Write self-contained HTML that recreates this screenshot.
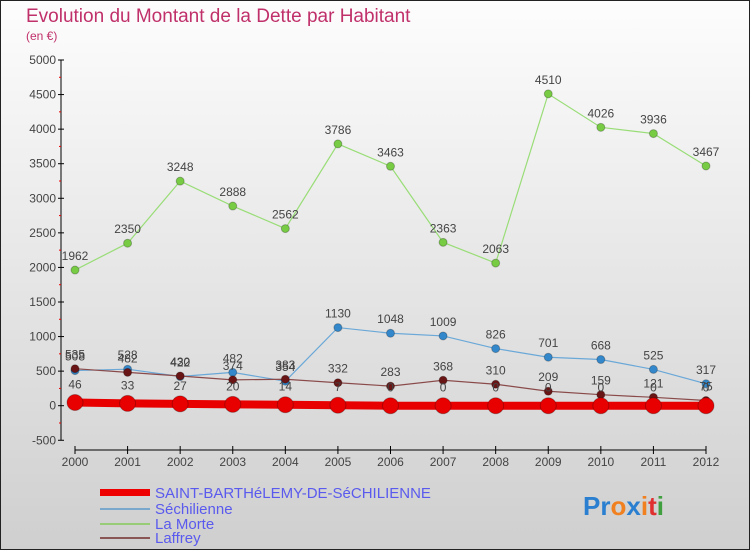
<!DOCTYPE html>
<html><head><meta charset="utf-8"><style>
body{margin:0;width:750px;height:550px;overflow:hidden;font-family:"Liberation Sans",sans-serif}
svg{display:block}
</style></head><body>
<svg id="chart" width="750" height="550">
<defs><linearGradient id="bg" x1="0" y1="0" x2="0" y2="1"><stop offset="0" stop-color="#fdfdfd"/><stop offset="1" stop-color="#cfcfcf"/></linearGradient></defs>
<rect x="0.5" y="0.5" width="749" height="549" fill="url(#bg)" stroke="#222"/>
<text x="26" y="22" font-size="19" fill="#c0306a">Evolution du Montant de la Dette par Habitant</text>
<text x="26" y="40" font-size="12" fill="#c0306a">(en €)</text>
<g id="axes"></g><g id="series"></g>
<g font-size="15" fill="#5a5aee">
<rect x="100" y="489" width="50" height="7" fill="#e00"/>
<text x="155" y="498">SAINT-BARTHéLEMY-DE-SéCHILIENNE</text>
<rect x="100" y="508" width="50" height="2" fill="#7aa8cc"/>
<text x="155" y="514">Séchilienne</text>
<rect x="100" y="523" width="50" height="2" fill="#99cc77"/>
<text x="155" y="529">La Morte</text>
<rect x="100" y="537" width="50" height="2" fill="#8a5555"/>
<text x="155" y="543">Laffrey</text>
</g>
<text x="583" y="515" font-size="26" font-weight="bold"><tspan fill="#2a7fd0">Pr</tspan><tspan fill="#f08020">o</tspan><tspan fill="#2a7fd0">x</tspan><tspan fill="#f08020">i</tspan><tspan fill="#e03030">t</tspan><tspan fill="#40a040">i</tspan></text>
</svg>
<script>
const years=[2000,2001,2002,2003,2004,2005,2006,2007,2008,2009,2010,2011,2012];
const saintBarth=[46,33,27,20,14,7,0,0,0,0,0,0,0];
const sechilienne=[508,528,422,482,354,1130,1048,1009,826,701,668,525,317];
const laMorte=[1962,2350,3248,2888,2562,3786,3463,2363,2063,4510,4026,3936,3467];
const laffrey=[535,482,430,374,383,332,283,368,310,209,159,121,75];
const yTicks=[-500,0,500,1000,1500,2000,2500,3000,3500,4000,4500,5000];
const NS="http://www.w3.org/2000/svg";
const X=i=>75+i*(706-75)/(years.length-1);
const Y=v=>405.7-v*(345.7/5000);
function mk(tag,attrs,parent,txt){const e=document.createElementNS(NS,tag);for(const k in attrs)e.setAttribute(k,attrs[k]);if(txt!==undefined)e.textContent=txt;parent.appendChild(e);return e;}
const ax=document.getElementById('axes');
let a=mk('line',{x1:61,y1:Y(5000),x2:61,y2:Y(-500),stroke:'#000'},ax);


a=mk('line',{x1:X(0),y1:450,x2:X(12),y2:450,stroke:'#000'},ax);


yTicks.forEach((t,k)=>{
 mk('line',{x1:58,y1:Y(t),x2:64,y2:Y(t),stroke:'#000'},ax);
 if(k<yTicks.length-1) mk('line',{x1:59,y1:Y(t+250),x2:61,y2:Y(t+250),stroke:'#e00'},ax);
 const l=mk('text',{x:56,y:Y(t)+4,'text-anchor':'end','font-size':12,fill:'#444'},ax,t);
 
 
});
years.forEach((yr,i)=>{
 mk('line',{x1:X(i),y1:446,x2:X(i),y2:454,stroke:'#000'},ax);
 const l=mk('text',{x:X(i),y:466,'text-anchor':'middle','font-size':12,fill:'#444'},ax,yr);
 
 
});
const sg=document.getElementById('series');
function series(vals,name,lc,pc,lw,r){
 const g=mk('g',{},sg);
 
 
 const ln=mk('polyline',{points:vals.map((v,i)=>X(i)+','+Y(v)).join(' '),fill:'none',stroke:lc,'stroke-width':lw},g);
 
 
 vals.forEach((v,i)=>{
  const c=mk('circle',{cx:X(i),cy:Y(v),r:r,fill:pc,stroke:'rgba(0,0,0,0.25)'},g);
  
  
  const t=mk('text',{x:X(i),y:Y(v)-(r+6),'text-anchor':'middle','font-size':12,fill:'#444'},g,v);
  
  
 });
}
series(laMorte,'la-morte','#99dd77','#77cc44',1.2,4);
series(sechilienne,'sechilienne','#6aa8d8','#3388cc',1.2,4);
series(laffrey,'laffrey','#8a4a4a','#6a1515',1.2,4);
series(saintBarth,'saint-barthelemy','#e80000','#e80000',8,8);
</script>
</body></html>
